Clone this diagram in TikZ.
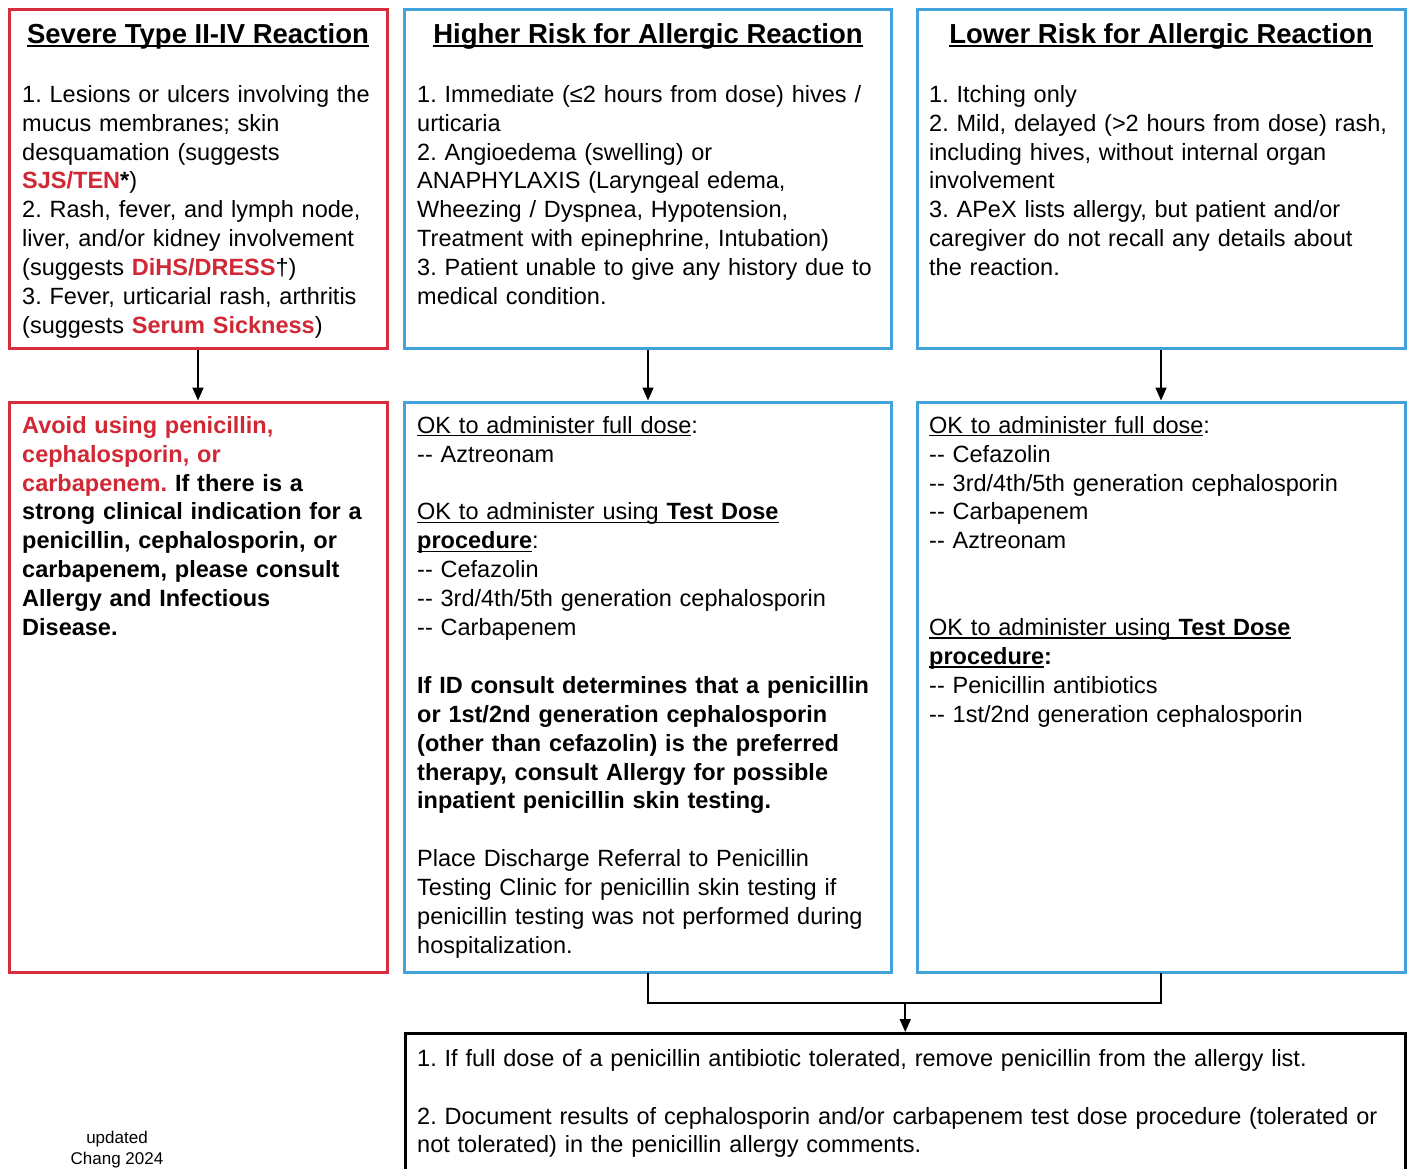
\documentclass[tikz,border=0pt]{standalone}
\usepackage{fontspec}
\setmainfont{Liberation Sans}
\usetikzlibrary{arrows.meta}
\definecolor{boxred}{RGB}{214,46,60}
\definecolor{boxblue}{RGB}{66,162,220}
\definecolor{txtred}{RGB}{208,40,52}
\newsavebox{\ulbox}
\newcommand{\myul}[1]{\leavevmode\sbox{\ulbox}{#1}\rlap{\rule[-3.2pt]{\wd\ulbox}{1.4pt}}\usebox{\ulbox}}
\newcommand{\myult}[1]{\leavevmode\sbox{\ulbox}{#1}\rlap{\rule[-4.2pt]{\wd\ulbox}{2pt}}\usebox{\ulbox}}
\newcommand{\bodyfont}{\fontsize{23.5pt}{28.9pt}\selectfont\frenchspacing}
\newcommand{\titlefont}{\fontsize{27.5pt}{32pt}\selectfont\bfseries}
\newcommand{\topstrut}{\rule{0pt}{22pt}}
\newcommand{\rd}[1]{\textcolor{txtred}{\textbf{#1}}}
\newcommand{\dd}{-{}-}
\frenchspacing
\begin{document}
\begin{tikzpicture}[x=1pt,y=-1pt,
  redbox/.style={draw=boxred,line width=3pt,inner sep=0pt,outer sep=0pt,anchor=north west},
  bluebox/.style={draw=boxblue,line width=3pt,inner sep=0pt,outer sep=0pt,anchor=north west},
  blackbox/.style={draw=black,line width=3pt,inner sep=0pt,outer sep=0pt,anchor=north west},
  txt/.style={anchor=north west,inner sep=0pt,align=left,font=\bodyfont,text width=1000pt},
  ttl/.style={anchor=base,inner sep=0pt,font=\titlefont},
  arr/.style={line width=1.8pt,shorten >=1.5pt,shorten <=1.5pt,-{Triangle[length=13pt,width=11pt]}},
  conn/.style={line width=1.8pt}]
\useasboundingbox (0,0) rectangle (1410,1168);
\clip (0,0) rectangle (1410,1168);
\fill[white] (0,0) rectangle (1410,1168);

% boxes
\node[redbox,minimum width=378pt,minimum height=339pt] (A) at (9,9.5) {};
\node[bluebox,minimum width=487pt,minimum height=339pt] (B) at (404.5,9.5) {};
\node[bluebox,minimum width=488pt,minimum height=339pt] (C) at (917,9.5) {};
\node[redbox,minimum width=378pt,minimum height=570.5pt] (D) at (9,402) {};
\node[bluebox,minimum width=487pt,minimum height=570.5pt] (E) at (404.5,402) {};
\node[bluebox,minimum width=488pt,minimum height=570.5pt] (F) at (917,402) {};
\node[blackbox,minimum width=999.5pt,minimum height=200pt] (G) at (405.5,1033.5) {};

% titles
\node[ttl] (tA) at (198,43) {\myult{Severe Type II-IV Reaction}};
\node[ttl] (tB) at (648,43) {\myult{Higher Risk for Allergic Reaction}};
\node[ttl] (tC) at (1161,43) {\myult{Lower Risk for Allergic Reaction}};

% body texts
\node[txt] (bA) at (22,80) {\topstrut 1. Lesions or ulcers involving the\\
mucus membranes; skin\\
desquamation (suggests\\
\rd{SJS/TEN}\textbf{*})\\
2. Rash, fever, and lymph node,\\
liver, and/or kidney involvement\\
(suggests \rd{DiHS/DRESS}†)\\
3. Fever, urticarial rash, arthritis\\
(suggests \rd{Serum Sickness})};

\node[txt] (bB) at (417,80) {\topstrut 1. Immediate (≤2 hours from dose) hives /\\
urticaria\\
2. Angioedema (swelling) or\\
ANAPHYLAXIS (Laryngeal edema,\\
Wheezing / Dyspnea, Hypotension,\\
Treatment with epinephrine, Intubation)\\
3. Patient unable to give any history due to\\
medical condition.};

\node[txt] (bC) at (929,80) {\topstrut 1. Itching only\\
2. Mild, delayed (>2 hours from dose) rash,\\
including hives, without internal organ\\
involvement\\
3. APeX lists allergy, but patient and/or\\
caregiver do not recall any details about\\
the reaction.};

\node[txt] (bD) at (22,411) {\topstrut\rd{Avoid using penicillin,}\\
\rd{cephalosporin, or}\\
\rd{carbapenem.} \textbf{If there is a}\\
\textbf{strong clinical indication for a}\\
\textbf{penicillin, cephalosporin, or}\\
\textbf{carbapenem, please consult}\\
\textbf{Allergy and Infectious}\\
\textbf{Disease.}};

\node[txt] (bE) at (417,411) {\topstrut\myul{OK to administer full dose}:\\
\dd{} Aztreonam\\
\topstrut\\
\myul{OK to administer using \textbf{Test Dose}}\\
\myul{\textbf{procedure}}:\\
\dd{} Cefazolin\\
\dd{} 3rd/4th/5th generation cephalosporin\\
\dd{} Carbapenem\\
\topstrut\\
\textbf{If ID consult determines that a penicillin}\\
\textbf{or 1st/2nd generation cephalosporin}\\
\textbf{(other than cefazolin) is the preferred}\\
\textbf{therapy, consult Allergy for possible}\\
\textbf{inpatient penicillin skin testing.}\\
\topstrut\\
Place Discharge Referral to Penicillin\\
Testing Clinic for penicillin skin testing if\\
penicillin testing was not performed during\\
hospitalization.};

\node[txt] (bF) at (929,411) {\topstrut\myul{OK to administer full dose}:\\
\dd{} Cefazolin\\
\dd{} 3rd/4th/5th generation cephalosporin\\
\dd{} Carbapenem\\
\dd{} Aztreonam\\
\topstrut\\
\topstrut\\
\myul{OK to administer using \textbf{Test Dose}}\\
\myul{\textbf{procedure}}\textbf{:}\\
\dd{} Penicillin antibiotics\\
\dd{} 1st/2nd generation cephalosporin};

\node[txt] (bG) at (417,1044) {\topstrut 1. If full dose of a penicillin antibiotic tolerated, remove penicillin from the allergy list.\\
\topstrut\\
2. Document results of cephalosporin and/or carbapenem test dose procedure (tolerated or\\
not tolerated) in the penicillin allergy comments.};

\node[anchor=base,inner sep=0pt,font=\fontsize{17pt}{21pt}\selectfont] (up1) at (117,1143) {updated};
\node[anchor=base,inner sep=0pt,font=\fontsize{17pt}{21pt}\selectfont] (up2) at (117,1164) {Chang 2024};

% connectors
\draw[arr] (A.south) -- (D.north);
\draw[arr] (B.south) -- (E.north);
\draw[arr] (C.south) -- (F.north);
\coordinate (lvl) at (0,1003);
\coordinate (j) at (G.north |- lvl);
\draw[conn] (E.south) |- (j) -| (F.south);
\draw[arr,shorten <=0pt] (j) -- (G.north);
\end{tikzpicture}
\end{document}
